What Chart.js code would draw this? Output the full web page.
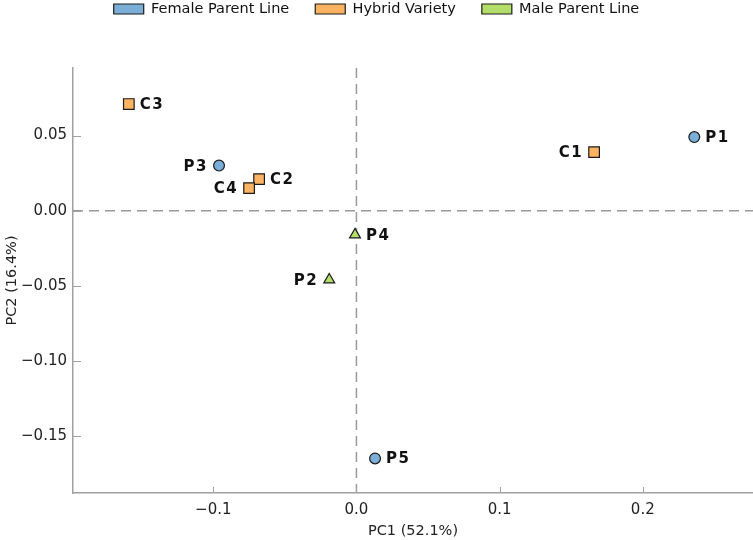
<!DOCTYPE html>
<html>
<head>
<meta charset="utf-8">
<title>PCA</title>
<script src="https://cdn.jsdelivr.net/npm/chart.js@4.4.1/dist/chart.umd.min.js"></script>
<style>
  html, body { margin: 0; padding: 0; background: #fff; }
  canvas { display: block; }
</style>
</head>
<body>
<canvas id="myChart" width="753" height="540"></canvas>
<script>
// datos
var nombres = ['P1', 'P2', 'P3', 'P4', 'P5', 'C1', 'C2', 'C3', 'C4'];
var pc1 = [0.236, -0.019, -0.096, -0.001, 0.013, 0.166, -0.068, -0.159, -0.075];
var pc2 = [0.049, -0.046, 0.030, -0.016, -0.165, 0.039, 0.021, 0.071, 0.015];
var grupos = ['Female Parent Line', 'Male Parent Line', 'Female Parent Line', 'Male Parent Line', 'Female Parent Line',
              'Hybrid Variety', 'Hybrid Variety', 'Hybrid Variety', 'Hybrid Variety'];
var series = ['Female Parent Line', 'Hybrid Variety', 'Male Parent Line'];
var tituloX = 'PC1 (52.1%)';
var tituloY = 'PC2 (16.4%)';

var colores = { 'Female Parent Line': '#7aaed6', 'Hybrid Variety': '#fdb462', 'Male Parent Line': '#b3de69' };
var formas = { 'Female Parent Line': 'circle', 'Hybrid Variety': 'rect', 'Male Parent Line': 'triangle' };
var radios = { 'Female Parent Line': 5.4, 'Hybrid Variety': 7.5, 'Male Parent Line': 6.3 };
var etiquetasIzq = ['P2', 'P3', 'C1', 'C4'];   // etiquetas a la izquierda del punto

var datasets = series.map(function(s) {
  var pts = [];
  nombres.forEach(function(n, i) {
    if (grupos[i] == s) pts.push({ x: pc1[i], y: pc2[i], name: n });
  });
  return {
    label: s,
    data: pts,
    backgroundColor: colores[s],
    borderColor: '#1a1a1a',
    borderWidth: 1.2,
    pointStyle: formas[s],
    pointRadius: radios[s],
    pointHoverRadius: radios[s]
  };
});

// lineas punteadas en cero
var lineasCero = {
  id: 'lineasCero',
  beforeDatasetsDraw: function(chart) {
    var ctx = chart.ctx, a = chart.chartArea;
    var x0 = chart.scales.x.getPixelForValue(0);
    var y0 = chart.scales.y.getPixelForValue(0);
    ctx.save();
    ctx.strokeStyle = '#9a9a9a';
    ctx.lineWidth = 1.5;
    ctx.setLineDash([10, 6]);
    ctx.beginPath();
    ctx.moveTo(a.left, y0); ctx.lineTo(a.right, y0);
    ctx.moveTo(x0, a.top); ctx.lineTo(x0, a.bottom);
    ctx.stroke();
    ctx.restore();
  }
};

// marcas de los ticks hacia adentro
var marcas = {
  id: 'marcas',
  afterDraw: function(chart) {
    var ctx = chart.ctx, a = chart.chartArea;
    ctx.save();
    ctx.strokeStyle = '#a0a0a0';
    ctx.lineWidth = 1;
    ctx.beginPath();
    chart.scales.x.ticks.forEach(function(t) {
      var px = Math.round(chart.scales.x.getPixelForValue(t.value)) + 0.5;
      ctx.moveTo(px, a.bottom); ctx.lineTo(px, a.bottom - 6);
    });
    chart.scales.y.ticks.forEach(function(t) {
      var py = Math.round(chart.scales.y.getPixelForValue(t.value)) + 0.5;
      ctx.moveTo(a.left, py); ctx.lineTo(a.left + 8, py);
    });
    ctx.stroke();
    ctx.restore();
  }
};

// nombres de cada punto
var etiquetas = {
  id: 'etiquetas',
  afterDatasetsDraw: function(chart) {
    var ctx = chart.ctx;
    ctx.save();
    ctx.font = 'bold 15px "DejaVu Sans"';
    if ('letterSpacing' in ctx) ctx.letterSpacing = '1.5px';
    ctx.fillStyle = '#111';
    ctx.textBaseline = 'middle';
    chart.data.datasets.forEach(function(ds, i) {
      var meta = chart.getDatasetMeta(i);
      meta.data.forEach(function(el, j) {
        var n = ds.data[j].name;
        if (etiquetasIzq.indexOf(n) >= 0) {
          ctx.textAlign = 'right';
          ctx.fillText(n, el.x - 11, el.y + 1);
        } else {
          ctx.textAlign = 'left';
          ctx.fillText(n, el.x + 11, el.y + 1);
        }
      });
    });
    ctx.restore();
  }
};

var menos = function(v, dec) {
  return v.toFixed(dec).replace('-', '\u2212');
};

var sinRelleno = function(s) {
  s.paddingLeft = 0;
  s.paddingRight = 0;
};

var ctx = document.getElementById('myChart').getContext('2d');
var myChart = new Chart(ctx, {
  type: 'scatter',
  data: { datasets: datasets },
  options: {
    responsive: false,
    animation: false,
    devicePixelRatio: 1,
    layout: { autoPadding: false, padding: { top: -24.25, left: 0, right: 0, bottom: 0 } },
    plugins: {
      tooltip: { enabled: false },
      legend: {
        position: 'top',
        labels: {
          boxWidth: 30,
          boxHeight: 10,
          padding: 26,
          color: '#111',
          font: { family: '"DejaVu Sans"', size: 14.5 }
        }
      }
    },
    scales: {
      x: {
        type: 'linear',
        min: -0.198,
        max: 0.277,
        grid: { display: false, drawTicks: false },
        border: { display: true, color: '#a0a0a0', width: 1.5 },
        ticks: {
          stepSize: 0.1,
          includeBounds: false,
          padding: 8,
          color: '#222',
          font: { family: '"DejaVu Sans"', size: 15 },
          callback: function(v) { return menos(v, 1); }
        },
        title: {
          display: true,
          text: tituloX,
          color: '#222',
          padding: { top: 3, bottom: 0 },
          font: { family: '"DejaVu Sans"', size: 14.5 }
        },
        afterFit: function(s) { s.height = 47; sinRelleno(s); }
      },
      y: {
        type: 'linear',
        min: -0.188,
        max: 0.095,
        grid: { display: false, drawTicks: false },
        border: { display: true, color: '#a0a0a0', width: 1.5 },
        ticks: {
          stepSize: 0.05,
          includeBounds: false,
          padding: 6,
          color: '#222',
          font: { family: '"DejaVu Sans"', size: 15 },
          callback: function(v) { return menos(v, 2); }
        },
        title: {
          display: true,
          text: tituloY,
          color: '#222',
          padding: { top: 4, bottom: 2 },
          font: { family: '"DejaVu Sans"', size: 14.5 }
        },
        afterFit: function(s) { s.width = 73; }
      },
      // eje vacio arriba solo para dejar el espacio bajo la leyenda
      espacio: {
        type: 'linear',
        position: 'top',
        display: true,
        grid: { display: false, drawTicks: false },
        border: { display: false },
        ticks: { display: false },
        afterFit: function(s) { s.height = 41.75; sinRelleno(s); }
      }
    }
  },
  plugins: [lineasCero, marcas, etiquetas]
});
</script>
</body>
</html>
